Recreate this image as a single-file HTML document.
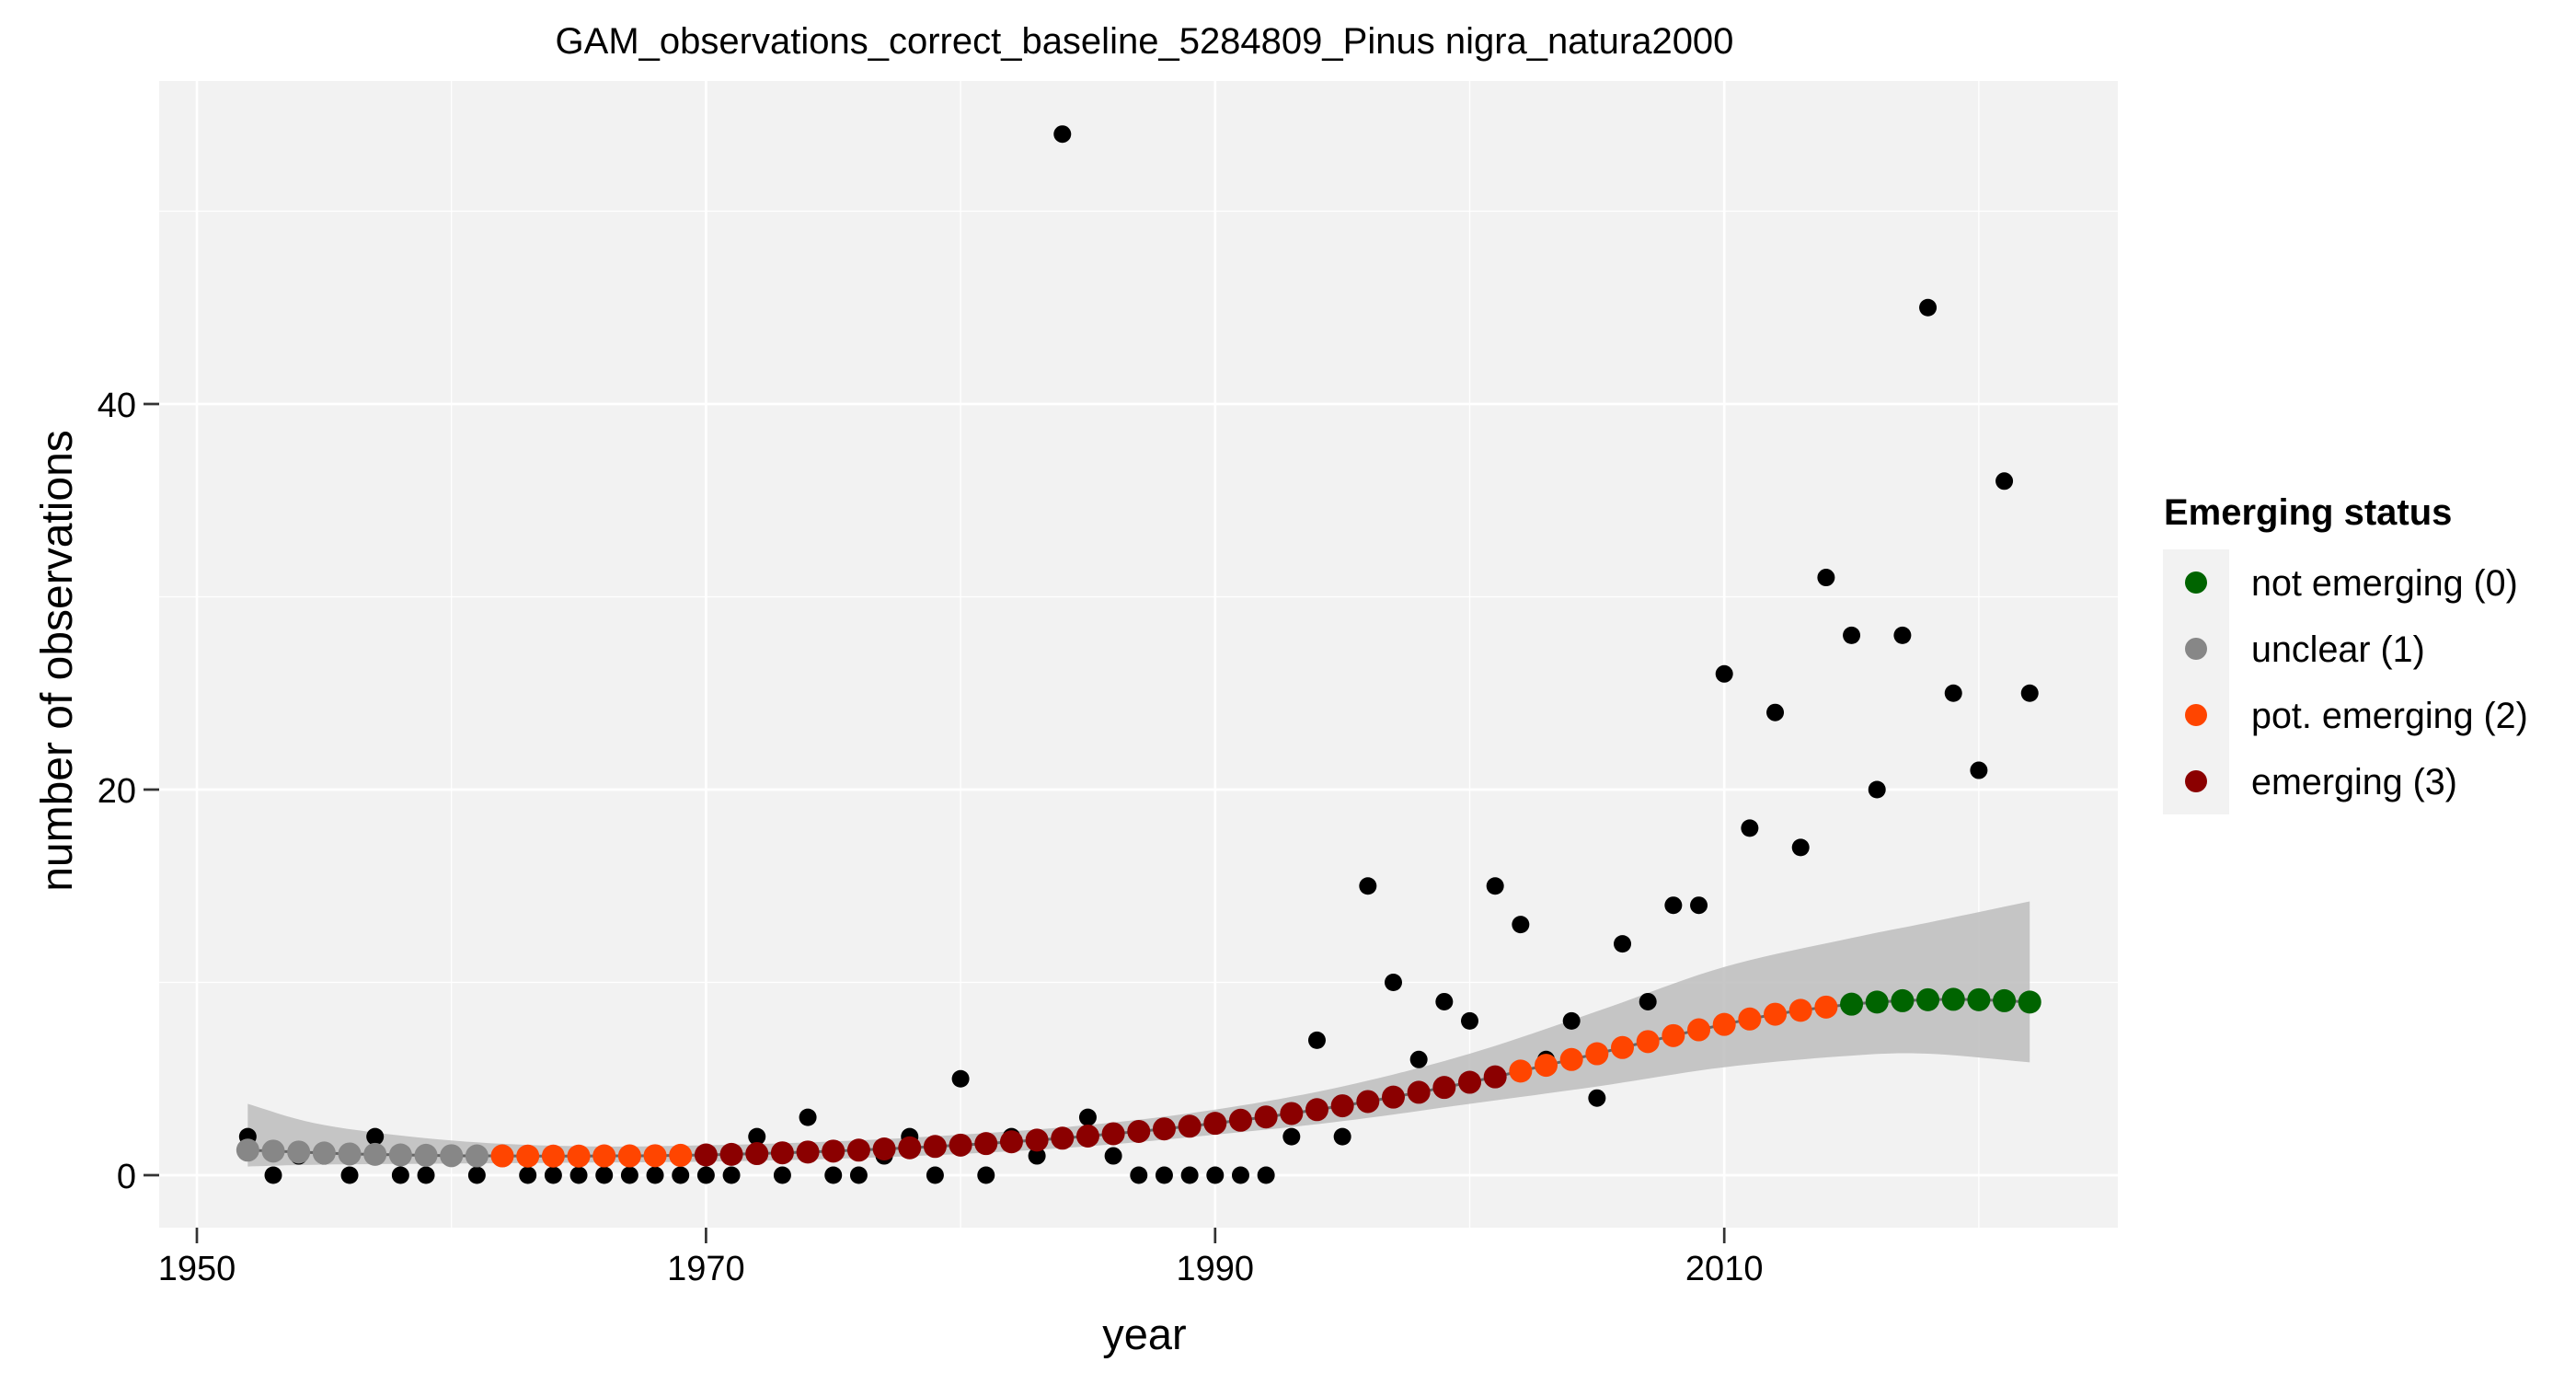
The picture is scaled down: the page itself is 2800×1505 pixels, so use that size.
<!DOCTYPE html>
<html><head><meta charset="utf-8"><style>
body{margin:0;background:#fff}
svg text{font-family:"Liberation Sans",Arial,sans-serif}
</style></head><body>
<svg id="chart" width="2800" height="1500" viewBox="0 0 2800 1500" xmlns="http://www.w3.org/2000/svg">
<rect x="173" y="88" width="2129" height="1246" fill="#f2f2f2"/>
<g id="grid"></g>
<g id="band"></g>
<g id="obs"></g>
<g id="fitline"></g>
<g id="fitpts"></g>
<g id="axes"></g>
<text x="1244" y="58" font-size="40" text-anchor="middle">GAM_observations_correct_baseline_5284809_Pinus nigra_natura2000</text>
<text x="1244" y="1466" font-size="47" text-anchor="middle">year</text>
<text transform="translate(78,718) rotate(-90)" font-size="48" text-anchor="middle">number of observations</text>
<g>
<text x="2352" y="570" font-size="40" font-weight="bold">Emerging status</text>
<rect x="2351" y="597" width="72" height="288" fill="#f2f2f2"/>
<circle cx="2387" cy="633" r="12" fill="#006400"/>
<circle cx="2387" cy="705" r="12" fill="#878787"/>
<circle cx="2387" cy="777" r="12" fill="#ff4500"/>
<circle cx="2387" cy="849" r="12" fill="#8b0000"/>
<text x="2447" y="647" font-size="39.5">not emerging (0)</text>
<text x="2447" y="719" font-size="39.5">unclear (1)</text>
<text x="2447" y="791" font-size="39.5">pot. emerging (2)</text>
<text x="2447" y="863" font-size="39.5">emerging (3)</text>
</g>
</svg>
<script>
const years=[1952,1953,1954,1955,1956,1957,1958,1959,1960,1961,1962,1963,1964,1965,1966,1967,1968,1969,1970,1971,1972,1973,1974,1975,1976,1977,1978,1979,1980,1981,1982,1983,1984,1985,1986,1987,1988,1989,1990,1991,1992,1993,1994,1995,1996,1997,1998,1999,2000,2001,2002,2003,2004,2005,2006,2007,2008,2009,2010,2011,2012,2013,2014,2015,2016,2017,2018,2019,2020,2021,2022];
const observed=[2,0,1,1,0,2,0,0,1,0,1,0,0,0,0,0,0,0,0,0,2,0,3,0,0,1,2,0,5,0,2,1,54,3,1,0,0,0,0,0,0,2,7,2,15,10,6,9,8,15,13,6,8,4,12,9,14,14,26,18,24,17,31,28,20,28,45,25,21,36,25];
const fitted=[1.3,1.25,1.2,1.15,1.1,1.08,1.05,1.03,1.01,1.0,1.0,0.99,0.99,0.99,1.0,1.0,1.01,1.03,1.05,1.08,1.12,1.16,1.2,1.25,1.3,1.36,1.42,1.49,1.56,1.64,1.73,1.82,1.92,2.03,2.15,2.27,2.4,2.54,2.69,2.85,3.02,3.2,3.4,3.6,3.82,4.05,4.3,4.55,4.82,5.1,5.4,5.7,6.0,6.3,6.62,6.93,7.24,7.54,7.82,8.1,8.35,8.55,8.72,8.87,8.98,9.05,9.1,9.12,9.1,9.05,8.98];
const status=[1,1,1,1,1,1,1,1,1,1,2,2,2,2,2,2,2,2,3,3,3,3,3,3,3,3,3,3,3,3,3,3,3,3,3,3,3,3,3,3,3,3,3,3,3,3,3,3,3,3,2,2,2,2,2,2,2,2,2,2,2,2,2,0,0,0,0,0,0,0,0];
const ciYears=[1952,1955,1960,1965,1970,1975,1980,1985,1990,1995,2000,2005,2010,2015,2018,2022];
const ciUpper=[3.7,2.6,1.8,1.5,1.55,1.75,2.1,2.6,3.4,4.6,6.3,8.5,10.8,12.3,13.1,14.2];
const ciLower=[0.45,0.55,0.6,0.65,0.7,0.85,1.1,1.5,2.1,2.8,3.7,4.6,5.6,6.2,6.3,5.85];
const xTicks=[1950,1970,1990,2010];
const xMinor=[1960,1980,2000,2020];
const yTicks=[0,20,40];
const yMinor=[10,30,50];
const statusColors=["#006400","#878787","#ff4500","#8b0000"];

const NS="http://www.w3.org/2000/svg";
const X=v=>214+(v-1950)*27.67;
const Y=v=>1277-v*20.95;
const L=173,R=2302,T=88,B=1334;
function mk(p,t,a){const e=document.createElementNS(NS,t);for(const k in a)e.setAttribute(k,a[k]);p.appendChild(e);return e;}
const grid=document.getElementById('grid');
yMinor.forEach(v=>{const e=mk(grid,'line',{x1:L,x2:R,y1:Y(v),y2:Y(v),stroke:'#fff','stroke-width':1.3});

});
xMinor.forEach(v=>{const e=mk(grid,'line',{x1:X(v),x2:X(v),y1:T,y2:B,stroke:'#fff','stroke-width':1.3});

});
yTicks.forEach(v=>{const e=mk(grid,'line',{x1:L,x2:R,y1:Y(v),y2:Y(v),stroke:'#fff','stroke-width':2.7});

});
xTicks.forEach(v=>{const e=mk(grid,'line',{x1:X(v),x2:X(v),y1:T,y2:B,stroke:'#fff','stroke-width':2.7});

});
function cr(xs,ys,steps){const pts=[];for(let i=0;i<xs.length-1;i++){const x0=xs[Math.max(i-1,0)],x1=xs[i],x2=xs[i+1],x3=xs[Math.min(i+2,xs.length-1)];const y0=ys[Math.max(i-1,0)],y1=ys[i],y2=ys[i+1],y3=ys[Math.min(i+2,ys.length-1)];for(let s=0;s<steps;s++){const t=s/steps,t2=t*t,t3=t2*t;const f=(p0,p1,p2,p3)=>0.5*(2*p1+(-p0+p2)*t+(2*p0-5*p1+4*p2-p3)*t2+(-p0+3*p1-3*p2+p3)*t3);pts.push([f(x0,x1,x2,x3),f(y0,y1,y2,y3)]);}}pts.push([xs[xs.length-1],ys[ys.length-1]]);return pts;}
const up=cr(ciYears,ciUpper,10),lo=cr(ciYears,ciLower,10).reverse();
const d='M'+up.map(p=>X(p[0]).toFixed(1)+','+Y(p[1]).toFixed(1)).join('L')+'L'+lo.map(p=>X(p[0]).toFixed(1)+','+Y(p[1]).toFixed(1)).join('L')+'Z';
const band=mk(document.getElementById('band'),'path',{d:d,fill:'#bdbdbd','fill-opacity':0.85});


const obs=document.getElementById('obs');
years.forEach((yr,i)=>{const c=mk(obs,'circle',{cx:X(yr),cy:Y(observed[i]),r:9.5,fill:'#000'});

});
const fl=mk(document.getElementById('fitline'),'polyline',{points:years.map((yr,i)=>X(yr)+','+Y(fitted[i])).join(' '),fill:'none',stroke:'#666','stroke-width':3});


const fp=document.getElementById('fitpts');
years.forEach((yr,i)=>{const c=mk(fp,'circle',{cx:X(yr),cy:Y(fitted[i]),r:12.5,fill:statusColors[status[i]]});

});
const ax=document.getElementById('axes');
xTicks.forEach(v=>{const t=mk(ax,'line',{x1:X(v),x2:X(v),y1:B,y2:B+17,stroke:'#333','stroke-width':2.7});


const l=mk(ax,'text',{x:X(v),y:1391,'font-size':38,'text-anchor':'middle',fill:'#000'});l.textContent=v;

});
yTicks.forEach(v=>{const t=mk(ax,'line',{x1:L-17,x2:L,y1:Y(v),y2:Y(v),stroke:'#333','stroke-width':2.7});


const l=mk(ax,'text',{x:L-25,y:Y(v)+14,'font-size':38,'text-anchor':'end',fill:'#000'});l.textContent=v;

});
</script>
</body></html>
